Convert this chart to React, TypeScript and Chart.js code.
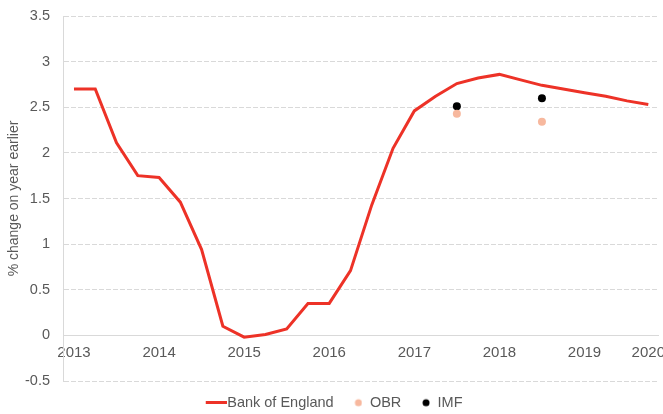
import { useEffect, useRef } from 'react';
import { Chart, registerables } from 'chart.js';

Chart.register(...registerables);

// Quarterly x values (decimal years) for the Bank of England projection
const quarters = [
  2013.0, 2013.25, 2013.5, 2013.75,
  2014.0, 2014.25, 2014.5, 2014.75,
  2015.0, 2015.25, 2015.5, 2015.75,
  2016.0, 2016.25, 2016.5, 2016.75,
  2017.0, 2017.25, 2017.5, 2017.75,
  2018.0, 2018.25, 2018.5, 2018.75,
  2019.0, 2019.25, 2019.5, 2019.75,
];
const bankOfEngland = [
  2.7, 2.7, 2.11, 1.75,
  1.73, 1.46, 0.94, 0.1,
  -0.02, 0.01, 0.07, 0.35,
  0.35, 0.71, 1.43, 2.05,
  2.46, 2.62, 2.76, 2.82,
  2.86, 2.8, 2.74, 2.7,
  2.66, 2.62, 2.57, 2.53,
];
const forecastYears = [2017.5, 2018.5];
const obr = [2.43, 2.34];
const imf = [2.51, 2.6];

const yearTicks = [2013, 2014, 2015, 2016, 2017, 2018, 2019];
const xTickLabels = ['2013', '2014', '2015', '2016', '2017', '2018', '2019', '2020'];
const seriesNames = ['Bank of England', 'OBR', 'IMF'];
const yTitle = '% change on year earlier';

const RED = '#ED3227';
const PEACH = '#F7B89E';
const BLACK = '#000000';
const GRID = '#D9D9D9';
const TEXT = '#595959';

function lineSwatch(color: string) {
  const c = document.createElement('canvas');
  c.width = 28;
  c.height = 3;
  const g = c.getContext('2d')!;
  g.fillStyle = color;
  g.fillRect(7, 0, 21, 3);
  return c;
}
function dotSwatch(color: string) {
  const c = document.createElement('canvas');
  c.width = 14;
  c.height = 10;
  const g = c.getContext('2d')!;
  g.fillStyle = color;
  g.beginPath();
  g.arc(10, 5, 3.5, 0, Math.PI * 2);
  g.fill();
  return c;
}

function zeroPadding(scale: any) {
  scale.paddingLeft = 0;
  scale.paddingRight = 0;
  scale.paddingTop = 0;
  scale.paddingBottom = 0;
}

export default function App() {
  const ref = useRef<HTMLCanvasElement | null>(null);

  useEffect(() => {
    document.body.style.margin = '0';
    const canvas = ref.current;
    if (!canvas) return;
    Chart.defaults.font.family = '"Liberation Sans", Arial, sans-serif';
    Chart.defaults.color = TEXT;

    const swatches = [lineSwatch(RED), dotSwatch(PEACH), dotSwatch(BLACK)];
    const colors = [RED, PEACH, BLACK];

    const chart = new Chart(canvas, {
      type: 'scatter',
      data: {
        datasets: [
          {
            label: seriesNames[0],
            data: quarters.map((q, i) => ({ x: q, y: bankOfEngland[i] })),
            showLine: true,
            borderColor: RED,
            backgroundColor: RED,
            borderWidth: 3,
            pointRadius: 0,
            tension: 0,
          },
          {
            label: seriesNames[1],
            data: forecastYears.map((q, i) => ({ x: q, y: obr[i] })),
            backgroundColor: PEACH,
            borderWidth: 0,
            pointRadius: 4,
          },
          {
            label: seriesNames[2],
            data: forecastYears.map((q, i) => ({ x: q, y: imf[i] })),
            backgroundColor: BLACK,
            borderWidth: 0,
            pointRadius: 4,
          },
        ],
      },
      options: {
        animation: false,
        responsive: false,
        devicePixelRatio: 1,
        layout: { padding: { top: 16, right: 5, left: 10, bottom: 0 } },
        plugins: {
          tooltip: { enabled: false },
          legend: {
            position: 'bottom',
            labels: {
              usePointStyle: true,
              padding: 14.5,
              font: { size: 14.5 },
              color: TEXT,
              generateLabels: () =>
                seriesNames.map((name, i) => ({
                  text: name,
                  pointStyle: swatches[i] as any,
                  fillStyle: colors[i],
                  strokeStyle: colors[i],
                  lineWidth: 0,
                  hidden: false,
                  datasetIndex: i,
                  fontColor: TEXT,
                })),
            },
          },
        },
        scales: {
          x: {
            type: 'linear',
            position: { y: 0 } as any,
            min: 2012.871,
            max: 2019.864,
            afterBuildTicks: (scale: any) => {
              scale.ticks = [...yearTicks, quarters[quarters.length - 1]].map((v) => ({ value: v }));
            },
            afterFit: zeroPadding,
            ticks: {
              autoSkip: false,
              maxRotation: 0,
              padding: 8,
              font: { size: 15 },
              color: TEXT,
              callback: (_v: any, index: number) => xTickLabels[index],
            },
            grid: { display: false, drawTicks: false },
            border: { display: true, color: GRID, width: 1 },
          },
          y: {
            min: -0.5,
            max: 3.5,
            afterFit: (scale: any) => {
              scale.width = 53;
              zeroPadding(scale);
            },
            ticks: {
              stepSize: 0.5,
              padding: 13,
              font: { size: 14.5 },
              color: TEXT,
              callback: (v: any) => String(v),
            },
            grid: { color: GRID, drawTicks: false, lineWidth: 1 },
            border: {
              display: true,
              color: GRID,
              width: 1,
              dash: (ctx: any) => (ctx.tick && ctx.tick.value !== 0 ? [5, 2] : []),
            },
            title: {
              display: true,
              text: yTitle,
              font: { size: 14 },
              color: TEXT,
              padding: { top: -4.4, bottom: 0 },
            },
          },
        },
      },
    });
    return () => chart.destroy();
  }, []);

  return (
    <div style={{ width: 663, height: 414, overflow: 'hidden' }}>
      <canvas ref={ref} width={663} height={420} style={{ display: 'block', width: 663, height: 420 }} />
    </div>
  );
}
